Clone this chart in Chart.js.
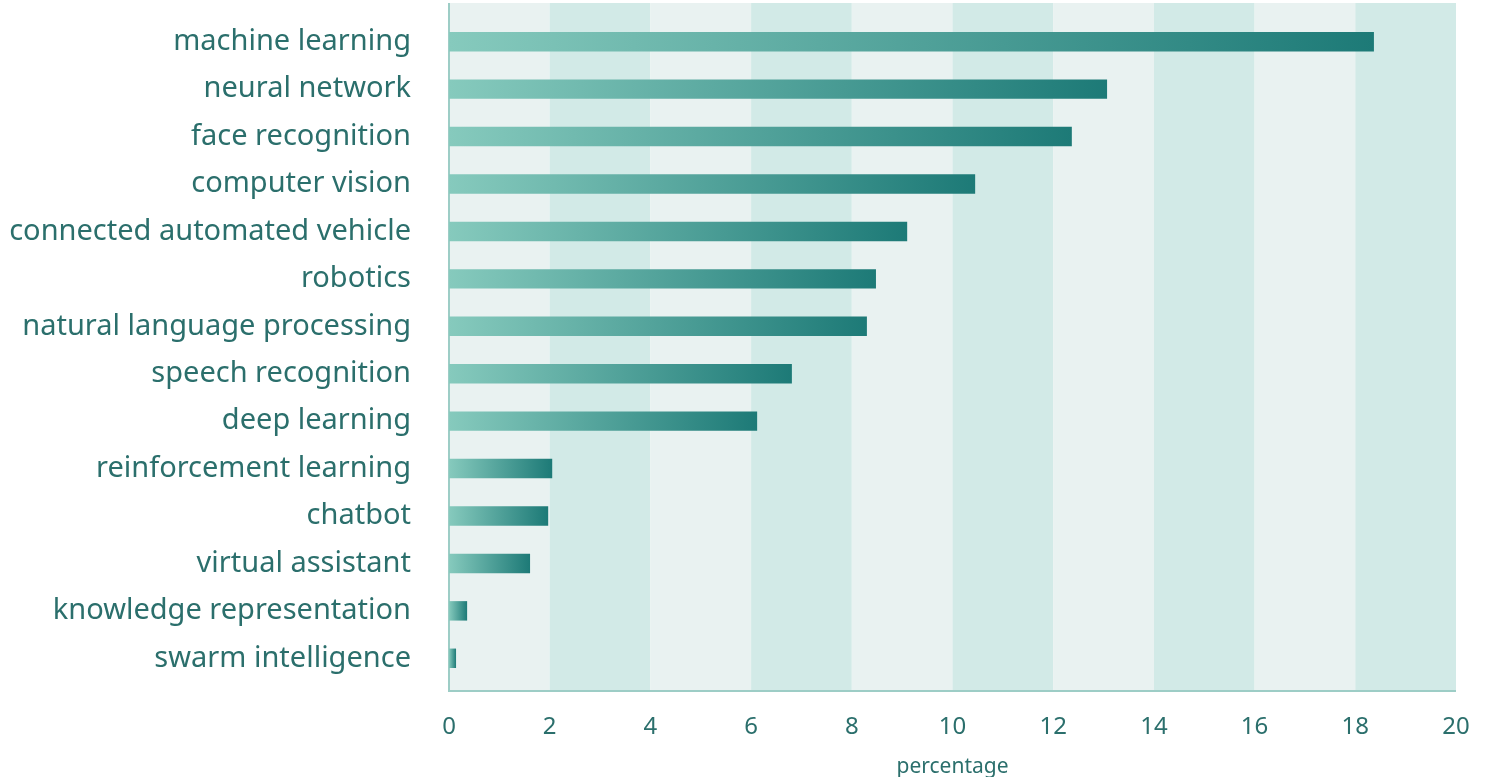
<!DOCTYPE html>
<html>
<head>
<meta charset="utf-8">
<style>
  html, body { margin: 0; padding: 0; background: #ffffff; }
  #wrap { width: 1486px; height: 777px; }
</style>
<script src="https://cdn.jsdelivr.net/npm/chart.js@4/dist/chart.umd.min.js"></script>
</head>
<body>
<div id="wrap"><canvas id="myChart" width="1486" height="777"></canvas></div>
<script>
const categories = [
    'machine learning', 'neural network', 'face recognition', 'computer vision',
    'connected automated vehicle', 'robotics', 'natural language processing',
    'speech recognition', 'deep learning', 'reinforcement learning', 'chatbot',
    'virtual assistant', 'knowledge representation', 'swarm intelligence'
];
const percentages = [18.37, 13.07, 12.37, 10.45, 9.1, 8.48, 8.3, 6.81, 6.12, 2.05, 1.97, 1.61, 0.36, 0.14];
const xTicks = [0, 2, 4, 6, 8, 10, 12, 14, 16, 18, 20];

const textColor = '#2b6f6c';
const lightBand = '#e9f2f1';
const darkBand = '#d2eae7';
const lineColor = '#9dcdc6';

// background bands every 2 units, extending a bit above/below the bars
const bandsPlugin = {
    id: 'bands',
    beforeDatasetsDraw(chart) {
        const { ctx, chartArea, scales } = chart;
        const top = chartArea.top - 15;
        const bottom = chartArea.bottom + 9;
        ctx.save();
        for (let i = 0; i < xTicks.length - 1; i++) {
            const x0 = scales.x.getPixelForValue(xTicks[i]);
            const x1 = scales.x.getPixelForValue(xTicks[i + 1]);
            ctx.fillStyle = i % 2 === 0 ? lightBand : darkBand;
            ctx.fillRect(x0, top, x1 - x0, bottom - top);
        }
        ctx.strokeStyle = lineColor;
        ctx.lineWidth = 2;
        ctx.beginPath();
        ctx.moveTo(chartArea.left, top);
        ctx.lineTo(chartArea.left, bottom);
        ctx.lineTo(chartArea.right, bottom);
        ctx.stroke();
        ctx.restore();
    }
};

function barGradient(context) {
    const chart = context.chart;
    if (!chart.chartArea) return '#4f9d96';
    const x = chart.scales.x;
    const x0 = x.getPixelForValue(0);
    const x1 = x.getPixelForValue(context.raw);
    const g = chart.ctx.createLinearGradient(x0, 0, x1, 0);
    g.addColorStop(0, '#86cabd');
    g.addColorStop(1, '#1d7a77');
    return g;
}

new Chart(document.getElementById('myChart').getContext('2d'), {
    type: 'bar',
    data: {
        labels: categories,
        datasets: [{
            data: percentages,
            backgroundColor: barGradient,
            borderWidth: 0,
            barPercentage: 0.41,
            categoryPercentage: 1
        }]
    },
    options: {
        indexAxis: 'y',
        responsive: false,
        animation: false,
        layout: { padding: { top: 18, right: 30, left: 0, bottom: 0 } },
        plugins: { legend: { display: false }, tooltip: { enabled: false } },
        scales: {
            x: {
                min: 0,
                max: 20,
                afterBuildTicks(scale) { scale.ticks = xTicks.map(v => ({ value: v })); },
                afterFit(scale) {
                    scale.height = 95;
                    scale.paddingLeft = 0;
                    scale.paddingRight = 0;
                },
                grid: { display: false, drawTicks: false },
                border: { display: false },
                ticks: { color: textColor, font: { family: 'Noto Sans', size: 24 }, padding: 31, maxRotation: 0 },
                title: {
                    display: true,
                    text: 'percentage',
                    color: textColor,
                    font: { family: 'Noto Sans', size: 21 },
                    padding: { top: 0, bottom: -3 }
                }
            },
            y: {
                afterFit(scale) {
                    scale.width = 449;
                    scale.paddingTop = 0;
                    scale.paddingBottom = 0;
                },
                grid: { display: false, drawTicks: false },
                border: { display: false },
                ticks: { color: textColor, font: { family: 'Noto Sans', size: 29 }, padding: 38 }
            }
        }
    },
    plugins: [bandsPlugin]
});
</script>
</body>
</html>
